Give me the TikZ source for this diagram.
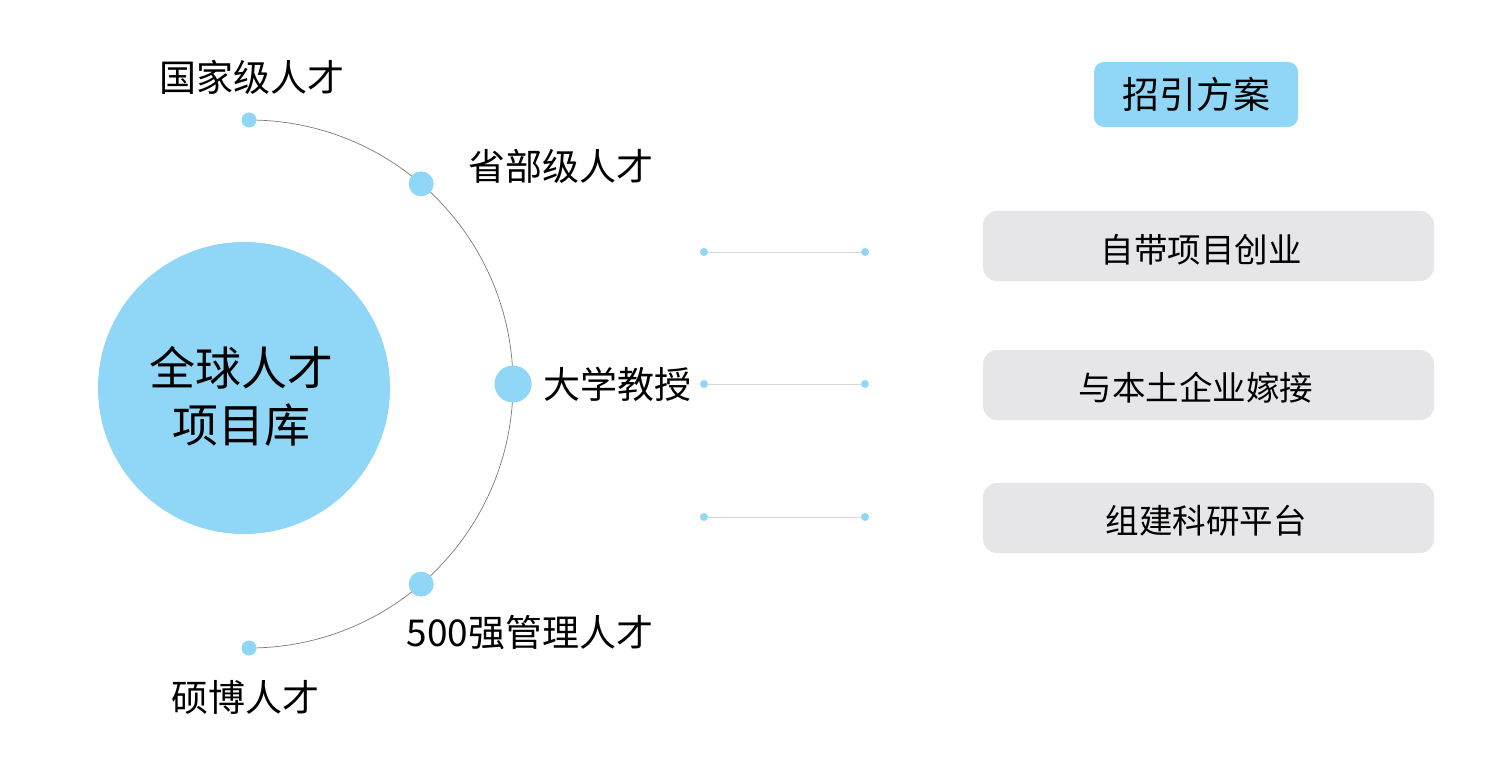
\documentclass[tikz,border=0pt]{standalone}
\usepackage{fontspec}
\usetikzlibrary{calc}
\setmainfont{Noto Sans CJK SC}
\definecolor{sky}{HTML}{8FD6F7}
\definecolor{boxgrey}{HTML}{E6E5E8}
\definecolor{arcgrey}{HTML}{7A7A7A}
\definecolor{linegrey}{HTML}{D8D8D8}
\tikzset{
  lbl/.style={inner sep=0pt, font=\fontsize{37}{42}\selectfont, text=black},
  biglbl/.style={inner sep=0pt, font=\fontsize{46}{57}\selectfont, align=center, text=black},
  optbox/.style={rounded corners=14pt, fill=boxgrey, minimum width=451pt, minimum height=70pt, inner sep=0pt},
  opttxt/.style={inner sep=0pt, font=\fontsize{33.5}{38}\selectfont, text=black},
  headbox/.style={rounded corners=10pt, fill=sky, minimum width=204pt, minimum height=65pt, inner sep=0pt, font=\fontsize{37}{42}\selectfont},
  dotS/.style={circle, fill=sky, inner sep=0pt, minimum size=15pt},
  dotM/.style={circle, fill=sky, inner sep=0pt, minimum size=25pt},
  dotL/.style={circle, fill=sky, inner sep=0pt, minimum size=37pt},
  tiny/.style={circle, fill=sky, inner sep=0pt, minimum size=8pt},
  link/.style={linegrey, line width=1pt},
}
\begin{document}
\begin{tikzpicture}[x=1pt,y=-1pt]
\useasboundingbox (0,0) rectangle (1511,767);
% central circle
\node[circle, fill=sky, minimum size=292pt, inner sep=0pt] (hub) at (244,388) {};
\node[biglbl] (hubtxt) at (241,396) {全球人才\\项目库};
% arc
\coordinate (arcc) at (249,384);
\draw[arcgrey, line width=0.7pt] (249,120) arc[start angle=-90, end angle=90, radius=264];
% dots on arc
\node[dotS] (d1) at (249,120) {};
\node[dotM] (d2) at ($(arcc)+(-49.3:264)$) {};
\node[dotL] (d3) at (513,384) {};
\node[dotM] (d4) at ($(arcc)+(49.3:264)$) {};
\node[dotS] (d5) at (249,648) {};
% labels
\node[lbl] (l1) at (252,77) {国家级人才};
\node[lbl] (l2) at (561,166) {省部级人才};
\node[lbl] (l3) at (617,384) {大学教授};
\node[lbl] (l4) at (530,633) {500强管理人才};
\node[lbl] (l5) at (245,697) {硕博人才};
% heading
\node[headbox] (head) at (1196,94.5) {招引方案};
% option boxes
\node[optbox] (o1) at (1208.5,246) {};
\node[optbox] (o2) at (1208.5,385) {};
\node[optbox] (o3) at (1208.5,518) {};
\node[opttxt] (t1) at (1201,250) {自带项目创业};
\node[opttxt] (t2) at (1196,388) {与本土企业嫁接};
\node[opttxt] (t3) at (1206,521) {组建科研平台};
% connectors
\node[tiny] (a1) at (704,252) {};
\node[tiny] (b1) at (865,252) {};
\node[tiny] (a2) at (704,384) {};
\node[tiny] (b2) at (865,384) {};
\node[tiny] (a3) at (704,517) {};
\node[tiny] (b3) at (865,517) {};
\draw[link] (a1) -- (b1);
\draw[link] (a2) -- (b2);
\draw[link] (a3) -- (b3);
\end{tikzpicture}
\end{document}
